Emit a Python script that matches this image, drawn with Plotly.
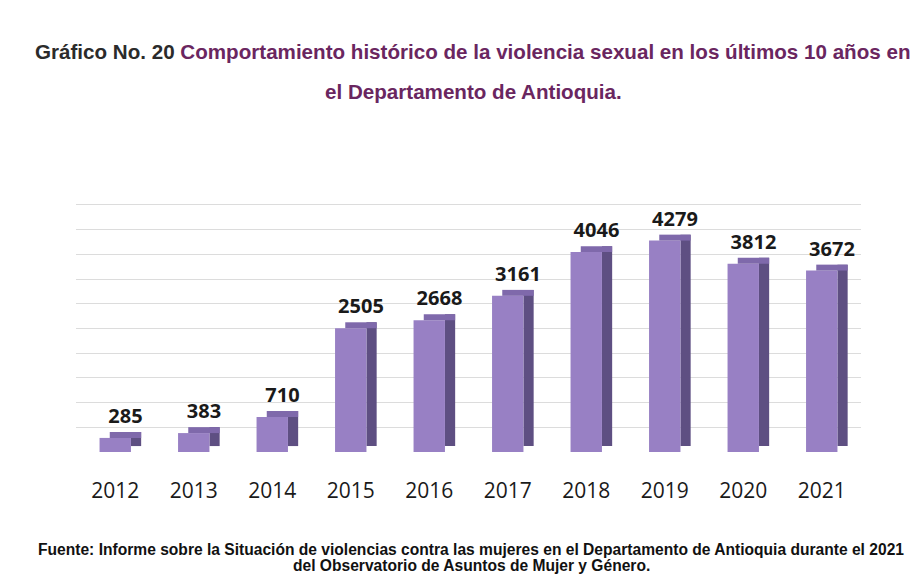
import plotly.graph_objects as go

years = ["2012", "2013", "2014", "2015", "2016", "2017", "2018", "2019", "2020", "2021"]
cases = [285, 383, 710, 2505, 2668, 3161, 4046, 4279, 3812, 3672]

depth = 120  # visual depth of the pseudo-3D cap, in data units

front_color = "#9880c4"
side_color = "#5e4f82"
top_color = "#7f69ab"

OFF = 8  # page body margin offset
W, H = 918 - OFF, 576 - OFF
M_L, M_R, M_T, M_B = 76 - OFF, 57, 200 - OFF, 124

fig = go.Figure()
# side face
fig.add_trace(go.Bar(
    x=years, y=cases, base=[depth] * len(cases),
    width=0.13, offset=0.2,
    marker=dict(color=side_color, line=dict(width=0)),
    hoverinfo="skip", showlegend=False,
))
# front face
fig.add_trace(go.Bar(
    x=years, y=cases,
    width=0.4, offset=-0.2,
    marker=dict(color=front_color, line=dict(width=0)),
    showlegend=False,
))
# top face + value labels
fig.add_trace(go.Bar(
    x=years, y=[depth] * len(cases), base=cases,
    width=0.4, offset=-0.07,
    marker=dict(color=top_color, line=dict(width=0)),
    text=[str(v) for v in cases], textposition="outside", constraintext="none",
    textfont=dict(family="Open Sans", size=20, color="#1a1a1a", weight="bold"),
    cliponaxis=False, hoverinfo="skip", showlegend=False,
))

plot_h = H - M_T - M_B
def paper_y(px_from_top):
    return (H - M_B - (px_from_top - OFF)) / plot_h
def paper_x(px_from_left):
    return (px_from_left - OFF - M_L) / (W - M_L - M_R)

fig.update_layout(
    width=W, height=H,
    paper_bgcolor="white", plot_bgcolor="white",
    margin=dict(l=M_L, r=M_R, t=M_T, b=M_B, autoexpand=False),
    barmode="overlay",
    font=dict(family="Liberation Sans"),
    xaxis=dict(
        type="category", showgrid=False, showline=False, ticks="",
        tickfont=dict(family="Open Sans", size=21, color="#1a1a1a"),
        ticklabelstandoff=24, automargin=False,
    ),
    yaxis=dict(
        range=[0, 5100], dtick=500, showgrid=True, gridcolor="#dcdcdc",
        gridwidth=1, zeroline=False, showticklabels=False, ticks="",
        automargin=False,
    ),
    annotations=[
        dict(
            text="Gráfico No. 20 <span style='color:#6a2660'>Comportamiento histórico de la violencia sexual en los últimos 10 años en</span>",
            x=paper_x(472), y=paper_y(51), xref="paper", yref="paper",
            yanchor="middle", showarrow=False,
            font=dict(family="Liberation Sans", size=20.6, color="#2b2b2b", weight="bold"),
        ),
        dict(
            text="el Departamento de Antioquia.",
            x=paper_x(473), y=paper_y(92), xref="paper", yref="paper",
            yanchor="middle", showarrow=False,
            font=dict(family="Liberation Sans", size=20.6, color="#6a2660", weight="bold"),
        ),
        dict(
            text="Fuente: Informe sobre la Situación de violencias contra las mujeres en el Departamento de Antioquia durante el 2021",
            x=paper_x(471), y=paper_y(549), xref="paper", yref="paper",
            yanchor="middle", showarrow=False,
            font=dict(family="Liberation Sans", size=15.6, color="#111111", weight="bold"),
        ),
        dict(
            text="del Observatorio de Asuntos de Mujer y Género.",
            x=paper_x(471), y=paper_y(565), xref="paper", yref="paper",
            yanchor="middle", showarrow=False,
            font=dict(family="Liberation Sans", size=15.6, color="#111111", weight="bold"),
        ),
    ],
)

fig.write_html("out.html")
